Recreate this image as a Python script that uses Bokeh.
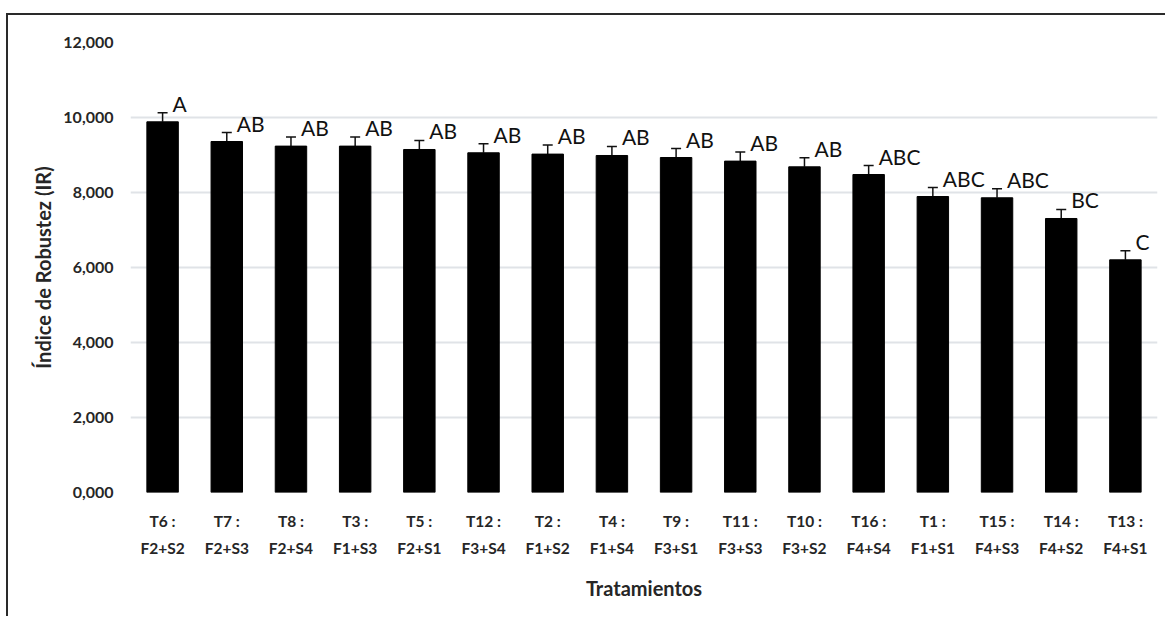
from bokeh.plotting import figure
from bokeh.models import (ColumnDataSource, FixedTicker, Whisker, TeeHead,
                          LabelSet, Range1d, FactorRange)
from bokeh.core.properties import value
from bokeh.embed import file_html
from bokeh.resources import INLINE

# Treatments, ordered from highest to lowest robustness index
treatments = ["T6 :", "T7 :", "T8 :", "T3 :", "T5 :", "T12 :", "T2 :", "T4 :",
              "T9 :", "T11 :", "T10 :", "T16 :", "T1 :", "T15 :", "T14 :", "T13 :"]
combos = ["F2+S2", "F2+S3", "F2+S4", "F1+S3", "F2+S1", "F3+S4", "F1+S2", "F1+S4",
          "F3+S1", "F3+S3", "F3+S2", "F4+S4", "F1+S1", "F4+S3", "F4+S2", "F4+S1"]
robustness = [9.885, 9.360, 9.237, 9.237, 9.147, 9.059, 9.024, 8.987,
              8.933, 8.837, 8.685, 8.480, 7.893, 7.859, 7.307, 6.205]
std_error = [0.24] * 16
groups = ["A", "AB", "AB", "AB", "AB", "AB", "AB", "AB",
          "AB", "AB", "AB", "ABC", "ABC", "ABC", "BC", "C"]

y_ticks = [0, 2, 4, 6, 8, 10, 12]
y_tick_labels = ["0,000", "2,000", "4,000", "6,000", "8,000", "10,000", "12,000"]

factors = [f"{t}\n{c}" for t, c in zip(treatments, combos)]
src = ColumnDataSource(dict(
    x=factors,
    top=robustness,
    upper=[v + e for v, e in zip(robustness, std_error)],
    grp=groups,
))

p = figure(
    x_range=FactorRange(*factors, range_padding=0),
    y_range=Range1d(0, 12),
    width=1159, height=603,
    output_backend="svg", toolbar_location=None,
    min_border_left=122, min_border_right=10,
    min_border_top=27, min_border_bottom=126,
)
p.styles = {"border-left": "2px solid #2a2a2a", "border-top": "2px solid #2a2a2a",
            "margin-left": "6px", "margin-top": "13px"}
p.outline_line_color = None
p.background_fill_color = "white"
p.border_fill_color = "white"

p.vbar(x="x", top="top", width=0.49, source=src, fill_color="black",
       line_color="black")

err = Whisker(base="x", lower="top", upper="upper", source=src,
              line_color="#111111", line_width=1.5,
              upper_head=TeeHead(size=10, line_color="#111111", line_width=1.5),
              lower_head=None)
p.add_layout(err)

labels = LabelSet(x="x", y="upper", text="grp", source=src,
                  x_offset=10, y_offset=1, text_baseline="alphabetic",
                  text_align="left", text_font=value("Lato"),
                  text_font_size="21px", text_color="#111111")
p.add_layout(labels)

# grid
p.xgrid.grid_line_color = None
p.ygrid.grid_line_color = "#e0e3e7"
p.ygrid.grid_line_width = 2

# y axis
p.yaxis.ticker = FixedTicker(ticks=y_ticks)
p.yaxis.major_label_overrides = {t: l for t, l in zip(y_ticks, y_tick_labels)}
p.yaxis.axis_line_color = None
p.yaxis.major_tick_line_color = None
p.yaxis.minor_tick_line_color = None
p.yaxis.major_tick_out = 0
p.yaxis.major_label_standoff = 17
p.yaxis.major_label_text_font = "Lato"
p.yaxis.major_label_text_font_style = "bold"
p.yaxis.major_label_text_font_size = "16px"
p.yaxis.major_label_text_color = "#262626"
p.yaxis.axis_label = "Índice de Robustez (IR)"
p.yaxis.axis_label_text_font = "Lato"
p.yaxis.axis_label_text_font_style = "bold"
p.yaxis.axis_label_text_font_size = "20px"
p.yaxis.axis_label_text_color = "#262626"
p.yaxis.axis_label_standoff = 5

# x axis
p.xaxis.axis_line_color = None
p.xaxis.major_tick_line_color = None
p.xaxis.minor_tick_line_color = None
p.xaxis.major_tick_out = 0
p.xaxis.major_label_standoff = 19
p.xaxis.major_label_text_font = "Lato"
p.xaxis.major_label_text_font_style = "bold"
p.xaxis.major_label_text_font_size = "15.5px"
p.xaxis.major_label_text_color = "#262626"
p.xaxis.major_label_text_line_height = 1.55
p.xaxis.axis_label = "Tratamientos"
p.xaxis.axis_label_text_font = "Lato"
p.xaxis.axis_label_text_font_style = "bold"
p.xaxis.axis_label_text_font_size = "20px"
p.xaxis.axis_label_text_color = "#262626"
p.xaxis.axis_label_standoff = 16

open("out.html", "w").write(file_html(p, INLINE))
